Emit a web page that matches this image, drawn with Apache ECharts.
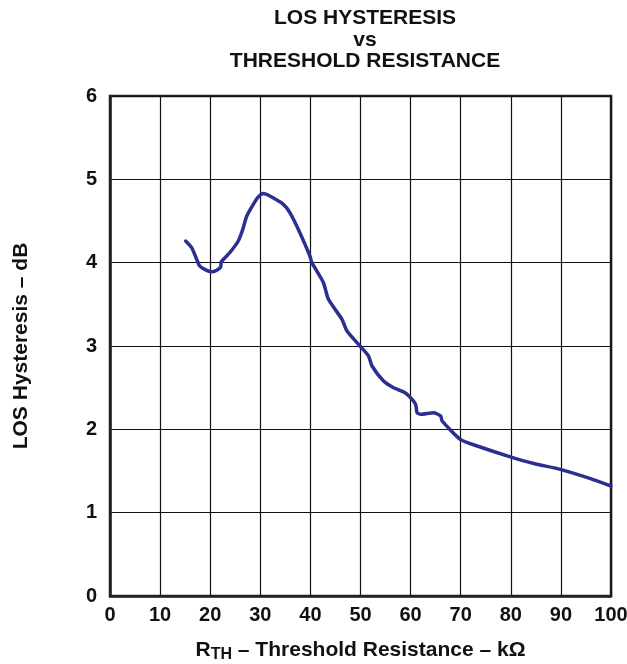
<!DOCTYPE html>
<html>
<head>
<meta charset="utf-8">
<script src="https://cdn.jsdelivr.net/npm/echarts@6/dist/echarts.min.js"></script>
<style>
html,body{margin:0;padding:0;background:#fff;}
#chart{width:627px;height:664px;}
</style>
</head>
<body>
<div id="chart"></div>
<script>
var titleLines = ['LOS HYSTERESIS', 'vs', 'THRESHOLD RESISTANCE'];
var xTicks = [0, 10, 20, 30, 40, 50, 60, 70, 80, 90, 100];
var yTicks = [0, 1, 2, 3, 4, 5, 6];
var rth = [15.1, 16.3, 17.3, 17.9, 18.9, 20.3, 21.3, 22.1, 22.2, 23.9, 25.6, 26.5, 27.3, 28.6, 29.6, 30.6, 31.9, 34.6, 35.9, 37.9, 39.9, 40.3, 42.6, 43.6, 46.3, 47.3, 49.9, 51.6, 52.3, 54.6, 56.6, 58.9, 60.3, 61.0, 61.3, 62.0, 64.6, 66.0, 66.3, 69.9, 73.3, 79.9, 84.6, 89.9, 95.3, 100];
var hyst = [4.26, 4.18, 4.04, 3.96, 3.92, 3.89, 3.91, 3.95, 4.01, 4.12, 4.26, 4.40, 4.56, 4.70, 4.79, 4.83, 4.80, 4.70, 4.60, 4.36, 4.08, 4.00, 3.76, 3.56, 3.32, 3.18, 3.00, 2.88, 2.76, 2.58, 2.50, 2.44, 2.36, 2.30, 2.20, 2.18, 2.20, 2.16, 2.10, 1.88, 1.80, 1.67, 1.59, 1.52, 1.42, 1.32];

var FONT = '"Liberation Sans", Arial, Helvetica, sans-serif';
var chart = echarts.init(document.getElementById('chart'), null, {renderer: 'canvas'});
var data = rth.map(function (x, i) { return [x, hyst[i]]; });

chart.setOption({
  animation: false,
  backgroundColor: '#ffffff',
  title: {
    text: titleLines.join('\n'),
    left: 360,
    textAlign: 'center',
    top: 3,
    textStyle: {fontFamily: FONT, fontWeight: 'bold', fontSize: 21, lineHeight: 21.3, color: '#111'}
  },
  grid: {
    left: 110, right: 16, top: 96, bottom: 68,
    outerBoundsMode: 'none', containLabel: false,
    show: true, borderColor: '#222', borderWidth: 2.5, backgroundColor: 'transparent'
  },
  xAxis: {
    type: 'value', min: xTicks[0], max: xTicks[xTicks.length - 1], interval: 10,
    name: '{r|R}{s|TH}{r| – Threshold Resistance – kΩ}',
    nameLocation: 'middle', nameGap: 43,
    nameTextStyle: {
      rich: {
        r: {fontFamily: FONT, fontWeight: 'bold', fontSize: 21, color: '#111', lineHeight: 22},
        s: {fontFamily: FONT, fontWeight: 'bold', fontSize: 16, color: '#111', lineHeight: 22, padding: [9, 0, 0, 0]}
      }
    },
    axisLine: {show: true, lineStyle: {color: '#222', width: 2.5}},
    axisTick: {show: false},
    axisLabel: {margin: 9, fontFamily: FONT, fontWeight: 'bold', fontSize: 20, color: '#111'},
    splitLine: {show: true, lineStyle: {color: '#111', width: 1.2}}
  },
  yAxis: {
    type: 'value', min: yTicks[0], max: yTicks[yTicks.length - 1], interval: 1,
    name: 'LOS Hysteresis – dB',
    nameLocation: 'middle', nameGap: 78, nameRotate: 90,
    nameTextStyle: {fontFamily: FONT, fontWeight: 'bold', fontSize: 21, color: '#111'},
    axisLine: {show: true, lineStyle: {color: '#222', width: 2.5}},
    axisTick: {show: false},
    axisLabel: {margin: 13, fontFamily: FONT, fontWeight: 'bold', fontSize: 20, color: '#111'},
    splitLine: {show: true, lineStyle: {color: '#111', width: 1.2}}
  },
  series: [{
    type: 'line',
    data: data,
    showSymbol: false,
    smooth: 0.2,
    lineStyle: {color: '#2b2f8f', width: 3.5, cap: 'round', join: 'round'},
    z: 5
  }]
});
</script>
</body>
</html>
